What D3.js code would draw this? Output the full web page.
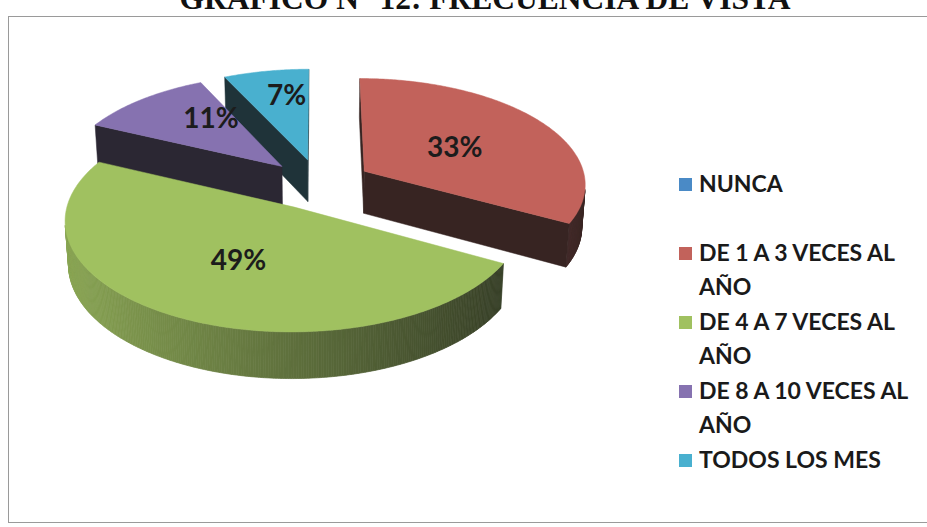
<!DOCTYPE html>
<html>
<head>
<meta charset="utf-8">
<script src="https://cdn.jsdelivr.net/npm/d3@7"></script>
<style>
  html, body { margin: 0; padding: 0; background: #ffffff; }
  svg { display: block; }
</style>
</head>
<body>
<svg id="chart" width="927" height="527"></svg>
<script>
// Survey answers: how often the place is visited
const categories = [
  "NUNCA",
  "DE 1 A 3 VECES AL AÑO",
  "DE 4 A 7 VECES AL AÑO",
  "DE 8 A 10 VECES AL AÑO",
  "TODOS LOS MES"
];
const values = [0, 33, 49, 11, 7];
const colors = ["#4a8ac6", "#c2625b", "#a0c160", "#8672b0", "#49b0cf"];
const titleText = "GRÁFICO N° 12: FRECUENCIA DE VISTA";

const svg = d3.select("#chart");
const W = 927, H = 527;

// chart frame
svg.append("rect")
  .attr("x", 8.5).attr("y", 16.5)
  .attr("width", W + 10).attr("height", 506)
  .attr("fill", "none").attr("stroke", "#9a9a9a").attr("stroke-width", 1);

// title (sits above the frame)
svg.append("text")
  .attr("x", 485).attr("y", 9)
  .attr("text-anchor", "middle")
  .attr("font-family", "'Liberation Serif', 'Times New Roman', serif")
  .attr("font-weight", "bold")
  .attr("font-size", 31.5)
  .attr("fill", "#111")
  .text(titleText);

// ---- 3D exploded pie -------------------------------------------------
const pie = d3.pie().sort(null).value(d => d)
  .startAngle(0).endAngle(2 * Math.PI);
const arcs = pie(values).map((a, i) => ({ ...a, i }));

// camera / projection settings
const S = 222;                 // pixels per unit radius at the pivot
const D = 8;                   // camera distance (perspective)
const tilt = 28.4 * Math.PI / 180;
const sk = Math.sin(tilt), ck = Math.cos(tilt);
const cx = 319, cy = 184;      // pivot on screen
const thick = 0.22;            // pie height in radius units
const explode = 0.24;          // slice pull-out in radius units
const cam = [0, -D * ck, D * sk];

function project(X, Y, Z) {
  const depth = Y * ck - Z * sk;
  const p = D / (D + depth);
  return [cx + S * X * p, cy - S * (Y * sk + Z * ck) * p];
}
function facing(P, n) {
  return (cam[0] - P[0]) * n[0] + (cam[1] - P[1]) * n[1] + (cam[2] - P[2]) * n[2] > 0;
}
const dark = "#141414";
const line = d3.line();

const slices = arcs.filter(a => a.endAngle - a.startAngle > 1e-6).map(a => {
  const mid = (a.startAngle + a.endAngle) / 2;
  return { ...a, mid, ox: explode * Math.sin(mid), oy: explode * Math.cos(mid) };
});
// paint far slices first
slices.sort((p, q) => q.oy - p.oy);

const gPie = svg.append("g");
slices.forEach(s => {
  const g = gPie.append("g");
  const base = colors[s.i];
  const rim = (t, z) => [s.ox + Math.sin(t), s.oy + Math.cos(t), z];

  // outer wall, in thin strips shaded by their direction
  const n = Math.max(8, Math.ceil((s.endAngle - s.startAngle) / 0.01));
  for (let j = 0; j < n; j++) {
    const t0 = s.startAngle + (s.endAngle - s.startAngle) * j / n;
    const t1 = s.startAngle + (s.endAngle - s.startAngle) * (j + 1) / n;
    const tm = (t0 + t1) / 2;
    const nrm = [Math.sin(tm), Math.cos(tm), 0];
    if (!facing(rim(tm, 0), nrm)) continue;
    const tShade = Math.min(0.85, Math.max(0.1, 0.47 + 0.32 * Math.sin(tm)));
    const col = d3.interpolateRgb(base, dark)(tShade);
    const pts = [rim(t0, 0), rim(t1, 0), rim(t1, -thick), rim(t0, -thick)]
      .map(P => project(...P));
    g.append("path").attr("d", line(pts) + "Z")
      .attr("fill", col).attr("stroke", col).attr("stroke-width", 0.7);
  }

  // the two cut faces
  const faceCol = d3.interpolateRgb(base, dark)(0.8);
  [[s.startAngle, [-Math.cos(s.startAngle), Math.sin(s.startAngle), 0]],
   [s.endAngle, [Math.cos(s.endAngle), -Math.sin(s.endAngle), 0]]].forEach(([t, nrm]) => {
    const P = [s.ox + 0.5 * Math.sin(t), s.oy + 0.5 * Math.cos(t), -thick / 2];
    if (!facing(P, nrm)) return;
    const pts = [[s.ox, s.oy, 0], rim(t, 0), rim(t, -thick), [s.ox, s.oy, -thick]]
      .map(Q => project(...Q));
    g.append("path").attr("d", line(pts) + "Z")
      .attr("fill", faceCol).attr("stroke", faceCol).attr("stroke-width", 0.5);
  });

  // top face
  const top = [project(s.ox, s.oy, 0)];
  const m = Math.max(8, Math.ceil((s.endAngle - s.startAngle) / 0.01));
  for (let j = 0; j <= m; j++) {
    const t = s.startAngle + (s.endAngle - s.startAngle) * j / m;
    top.push(project(...rim(t, 0)));
  }
  g.append("path").attr("d", line(top) + "Z")
    .attr("fill", base).attr("stroke", base).attr("stroke-width", 0.5);
});

// percentage labels on the top faces; narrow slices get theirs pushed
// deeper into the wedge where there is room
const total = d3.sum(values);
slices.forEach(s => {
  const frac = s.value / total;
  const depthR = frac < 0.15 ? 0.72 : 0.5;
  const [x, y] = project(
    s.ox + 0.5 * Math.sin(s.mid),
    s.oy + depthR * Math.cos(s.mid), 0);
  svg.append("text")
    .attr("x", x).attr("y", y)
    .attr("text-anchor", "middle").attr("dominant-baseline", "central")
    .attr("font-family", "Lato, 'Open Sans', sans-serif")
    .attr("font-weight", "bold").attr("font-size", 28)
    .attr("fill", "#1c1c1c")
    .text(d3.format(".0%")(frac));
});

// ---- legend -----------------------------------------------------------
const legend = svg.append("g").attr("transform", "translate(679,0)");
const pitch = 69, firstBase = 192, lineGap = 34, wrapW = 225;
categories.forEach((name, i) => {
  const yb = firstBase + i * pitch;
  legend.append("rect")
    .attr("x", 0).attr("y", yb - 14).attr("width", 13).attr("height", 13)
    .attr("fill", colors[i]);
  const txt = legend.append("text")
    .attr("x", 20).attr("y", yb)
    .attr("font-family", "Lato, 'Open Sans', sans-serif")
    .attr("font-weight", "bold").attr("font-size", 23)
    .attr("fill", "#1a1a1a");
  // wrap the category name to the legend width
  const words = name.split(" ");
  let lines = [], cur = [];
  const probe = txt.append("tspan");
  words.forEach(w => {
    const trial = cur.concat(w).join(" ");
    probe.text(trial);
    if (probe.node().getComputedTextLength() > wrapW && cur.length) {
      lines.push(cur.join(" "));
      cur = [w];
    } else cur.push(w);
  });
  lines.push(cur.join(" "));
  probe.remove();
  lines.forEach((l, k) => {
    txt.append("tspan").attr("x", 20).attr("y", yb + k * lineGap).text(l);
  });
});
</script>
</body>
</html>
